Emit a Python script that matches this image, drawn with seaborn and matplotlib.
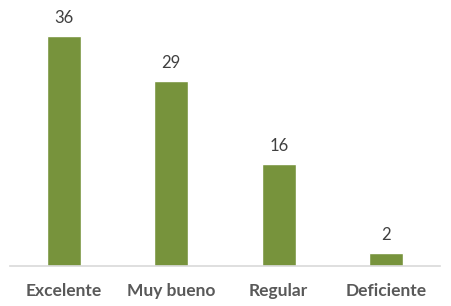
import matplotlib
matplotlib.use("Agg")
import matplotlib.pyplot as plt
import seaborn as sns
import pandas as pd

categories = ["Excelente", "Muy bueno", "Regular", "Deficiente"]
values = [36, 29, 16, 2]

df = pd.DataFrame({"cat": categories, "val": values})

sns.set_style("white")
plt.rcParams['font.family'] = ['Lato', 'DejaVu Sans']

fig = plt.figure(figsize=(4.52, 3.06), dpi=100)
ax = fig.add_axes([10/452, 1 - 266/306, 430/452, 266/306])

sns.barplot(data=df, x="cat", y="val", color="#77933C", width=0.315, ax=ax,
            saturation=1)
ax.set_xlim(-0.5, 3.5)
ax.set_ylim(0, 41.6)
for c in ax.containers:
    ax.bar_label(c, padding=7, fontsize=12, color="#404040")

ax.set_xlabel("")
ax.set_ylabel("")
ax.set_yticks([])
for s in ["top", "right", "left"]:
    ax.spines[s].set_visible(False)
ax.spines["bottom"].set_color("#D9D9D9")
ax.spines["bottom"].set_linewidth(1.2)
ax.tick_params(axis="x", length=0, pad=12)
for lbl in ax.get_xticklabels():
    lbl.set_fontsize(12.5)
    lbl.set_fontweight("bold")
    lbl.set_color("#595959")

fig.savefig("out.png", dpi=100)
